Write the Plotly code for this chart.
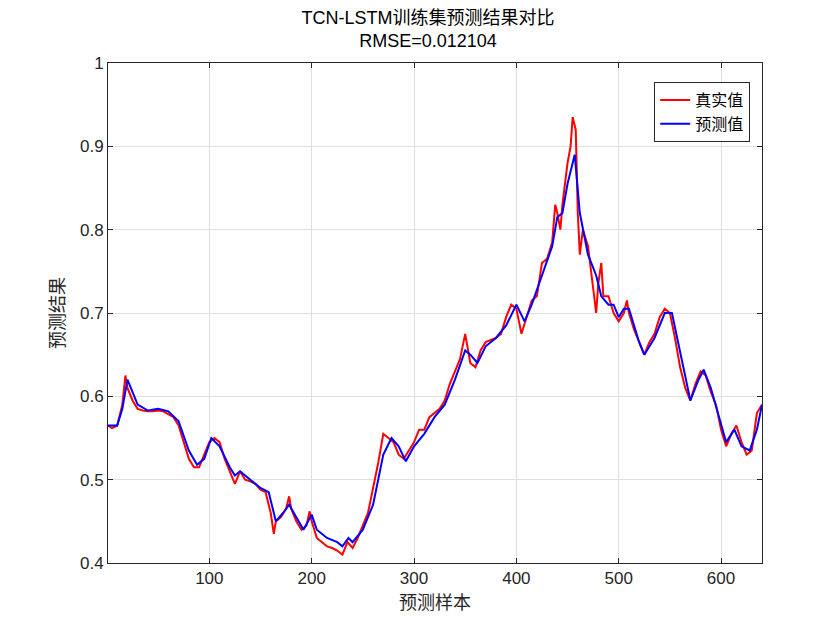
import plotly.graph_objects as go

# true values (sample index, value)
x_true = [1, 5, 10, 15, 18, 20, 25, 30, 35, 40, 45, 50, 55, 60, 65, 70, 75, 80, 85, 90,
          95, 100, 105, 110, 115, 120, 125, 130, 135, 140, 145, 150, 155, 160, 163, 165,
          170, 175, 178, 180, 185, 190, 195, 198, 200, 205, 210, 215, 220, 225, 230, 235,
          240, 245, 250, 255, 260, 265, 270, 275, 280, 285, 290, 295, 300, 305, 310, 315,
          320, 325, 330, 335, 340, 345, 350, 355, 360, 365, 370, 375, 380, 385, 390, 395,
          400, 405, 410, 415, 420, 425, 430, 435, 438, 440, 443, 445, 450, 453, 455, 458,
          460, 462, 465, 470, 475, 478, 480, 483, 485, 490, 495, 500, 505, 508, 510, 515,
          520, 525, 530, 535, 540, 545, 550, 555, 560, 565, 570, 575, 580, 585, 590, 595,
          600, 605, 610, 615, 620, 625, 630, 635, 640]
y_true = [0.565, 0.562, 0.565, 0.59, 0.625, 0.61, 0.595, 0.585, 0.583, 0.582, 0.582, 0.583,
          0.582, 0.578, 0.575, 0.565, 0.545, 0.525, 0.515, 0.515, 0.53, 0.545, 0.55, 0.545,
          0.525, 0.51, 0.495, 0.51, 0.5, 0.498, 0.495, 0.488, 0.485, 0.46, 0.435, 0.45,
          0.455, 0.465, 0.48, 0.465, 0.45, 0.44, 0.445, 0.462, 0.45, 0.43, 0.425, 0.42,
          0.418, 0.415, 0.41, 0.425, 0.418, 0.43, 0.445, 0.46, 0.49, 0.52, 0.555, 0.55,
          0.545, 0.53, 0.525, 0.535, 0.545, 0.56, 0.56, 0.575, 0.58, 0.585, 0.595, 0.615,
          0.63, 0.645, 0.675, 0.64, 0.635, 0.655, 0.665, 0.668, 0.67, 0.675, 0.695, 0.71,
          0.705, 0.675, 0.695, 0.715, 0.72, 0.76, 0.765, 0.785, 0.83, 0.82, 0.8, 0.83,
          0.88, 0.9, 0.935, 0.92, 0.82, 0.77, 0.8, 0.78, 0.73, 0.7, 0.735, 0.76, 0.72,
          0.72, 0.7, 0.69, 0.7, 0.715, 0.7, 0.68, 0.665, 0.65, 0.665, 0.675, 0.695, 0.705,
          0.7, 0.67, 0.635, 0.61, 0.595, 0.615, 0.63, 0.625, 0.605, 0.59, 0.56, 0.54,
          0.555, 0.565, 0.545, 0.53, 0.535, 0.58, 0.59]

# predicted values
x_pred = [1, 10, 15, 20, 25, 30, 40, 50, 60, 70, 80, 88, 95, 102, 110, 120, 125, 130, 140,
          150, 158, 165, 172, 178, 185, 192, 200, 205, 215, 225, 230, 236, 240, 250, 260,
          270, 278, 285, 292, 300, 310, 320, 330, 340, 350, 355, 362, 370, 380, 390, 400,
          408, 415, 425, 435, 440, 445, 450, 457, 462, 470, 478, 483, 490, 495, 500, 505,
          510, 515, 520, 525, 530, 535, 540, 545, 552, 560, 565, 570, 578, 583, 590, 598,
          605, 613, 620, 628, 635, 640]
y_pred = [0.565, 0.565, 0.585, 0.62, 0.605, 0.59, 0.583, 0.585, 0.582, 0.57, 0.535, 0.518,
          0.525, 0.55, 0.54, 0.515, 0.505, 0.51, 0.5, 0.49, 0.485, 0.45, 0.46, 0.47, 0.455,
          0.44, 0.458, 0.44, 0.43, 0.425, 0.42, 0.43, 0.425, 0.44, 0.47, 0.53, 0.55, 0.54,
          0.522, 0.54, 0.555, 0.575, 0.59, 0.62, 0.655, 0.65, 0.64, 0.66, 0.67, 0.685, 0.71,
          0.69, 0.71, 0.745, 0.78, 0.815, 0.82, 0.855, 0.89, 0.82, 0.77, 0.745, 0.72, 0.71,
          0.71, 0.695, 0.705, 0.705, 0.685, 0.665, 0.65, 0.66, 0.67, 0.685, 0.7, 0.7, 0.655,
          0.625, 0.595, 0.62, 0.632, 0.61, 0.575, 0.545, 0.56, 0.54, 0.535, 0.56, 0.59]

cjk = "Noto Sans CJK SC"

fig = go.Figure()
fig.add_trace(go.Scatter(x=x_true, y=y_true, mode="lines", name="真实值",
                         line=dict(color="#ff0000", width=2)))
fig.add_trace(go.Scatter(x=x_pred, y=y_pred, mode="lines", name="预测值",
                         line=dict(color="#0000ff", width=2)))

axis_style = dict(showline=True, linecolor="#262626", linewidth=1, mirror="ticks",
                  ticks="inside", ticklen=5, tickcolor="#262626",
                  showgrid=True, gridcolor="#dfdfdf", zeroline=False,
                  tickfont=dict(family="Arial", size=17, color="#262626"))

fig.update_layout(
    width=840, height=630,
    paper_bgcolor="white", plot_bgcolor="white",
    margin=dict(l=100, r=86, t=55, b=75),
    title=dict(text="TCN-LSTM训练集预测结果对比<br>RMSE=0.012104", x=0.5, xanchor="center",
               y=0.975, yanchor="top",
               font=dict(family="Arial, " + cjk, size=18, color="#000000")),
    xaxis=dict(range=[1, 640], tickvals=[100, 200, 300, 400, 500, 600],
               title=dict(text="预测样本", font=dict(family=cjk, size=18, color="#262626"),
                          standoff=6), **axis_style),
    yaxis=dict(range=[0.4, 1], dtick=0.1, tickformat="~g",
               title=dict(text="预测结果", font=dict(family=cjk, size=18, color="#262626"),
                          standoff=10), **axis_style),
    legend=dict(x=0.982, y=0.962, xanchor="right", yanchor="top",
                bordercolor="#262626", borderwidth=1, bgcolor="white",
                font=dict(family=cjk, size=16, color="#000000")),
    showlegend=True,
)

fig.write_html("out.html")
